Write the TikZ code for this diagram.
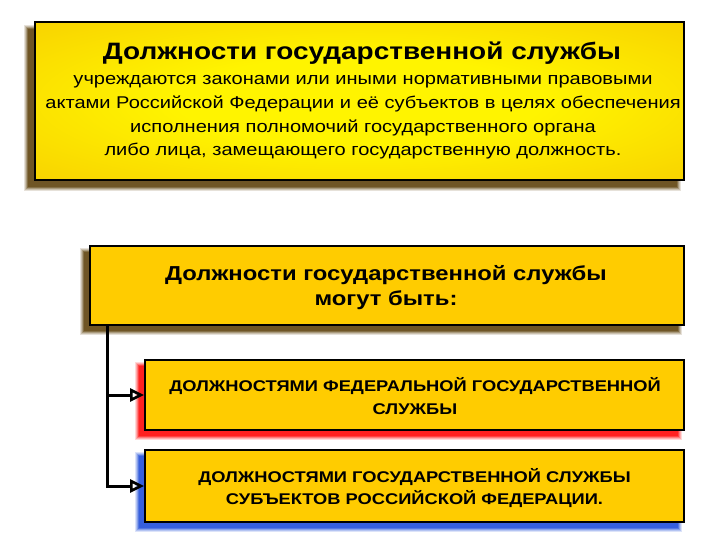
\documentclass[tikz,border=0pt]{standalone}
\usepackage{fontspec}
\setmainfont{Liberation Sans}
\usetikzlibrary{arrows.meta,calc,backgrounds}
\definecolor{gold}{HTML}{FFCC00}
\definecolor{litey}{HTML}{FFF400}
\definecolor{darky}{HTML}{F4C000}
\definecolor{shbrown}{HTML}{5A3C05}
\definecolor{shred}{HTML}{FF0000}
\definecolor{shblue}{HTML}{1848D8}
\pgfdeclareradialshading{glow}{\pgfpoint{0bp}{0bp}}{color(0bp)=(litey); color(14bp)=(litey); color(48bp)=(darky); color(60bp)=(darky)}
\tikzset{
  box/.style={draw=black, line width=2pt, fill=gold, inner sep=0pt},
  bigbox/.style={draw=black, line width=2.2pt, shading=glow, inner sep=0pt},
  txt/.style={anchor=base, inner sep=0pt},
  link/.style={line width=3pt, -{Triangle[open,length=14pt,width=13pt,line width=2.6pt]}},
}
\newcommand{\softshadow}[3]{% node, colour, offset
  \foreach \e/\o in {3/0.15,2/0.2,1/0.28,0/0.45,-1/0.5}{
    \fill[#2, opacity=\o]
      ($(#1.north west)+(-#3-\e,#3-\e)$) rectangle ($(#1.south east)+(-#3+\e,#3+\e)$);
  }
}
\newcommand{\hs}[1]{\scalebox{1.18}[1]{#1}}
\begin{document}
\begin{tikzpicture}[x=1pt,y=-1pt]
\useasboundingbox (0,0) rectangle (720,540);

\node[bigbox, minimum width=649pt, minimum height=158pt] (top) at (359.5,101) {};
\node[txt] (t0) at (362,60) {\fontsize{23.7}{27}\bfseries\selectfont\hs{Должности государственной службы}};
\node[txt] (t1) at (363,85) {\fontsize{17}{23}\selectfont\hs{учреждаются законами или иными нормативными правовыми}};
\node[txt] (t2) at (363,109) {\fontsize{17}{23}\selectfont\hs{актами Российской Федерации и её субъектов в целях обеспечения}};
\node[txt] (t3) at (363,133) {\fontsize{17}{23}\selectfont\hs{исполнения полномочий государственного органа}};
\node[txt] (t4) at (363,156) {\fontsize{17}{23}\selectfont\hs{либо лица, замещающего государственную должность.}};

\node[box, minimum width=594pt, minimum height=79pt] (mid) at (387,285.5) {};
\node[txt] (m1) at (386,280.5) {\fontsize{20.2}{25}\bfseries\selectfont\hs{Должности государственной службы}};
\node[txt] (m2) at (386,305.5) {\fontsize{20.2}{25}\bfseries\selectfont\hs{могут быть:}};

\node[box, minimum width=539pt, minimum height=70pt] (fed) at (414.5,395) {};
\node[txt] (f1) at (415,391) {\fontsize{15.5}{20}\bfseries\selectfont\hs{ДОЛЖНОСТЯМИ ФЕДЕРАЛЬНОЙ ГОСУДАРСТВЕННОЙ}};
\node[txt] (f2) at (415,414) {\fontsize{15.5}{20}\bfseries\selectfont\hs{СЛУЖБЫ}};

\node[box, minimum width=539pt, minimum height=72pt] (reg) at (414.5,486) {};
\node[txt] (r1) at (414.5,482) {\fontsize{15.5}{20}\bfseries\selectfont\hs{ДОЛЖНОСТЯМИ ГОСУДАРСТВЕННОЙ СЛУЖБЫ}};
\node[txt] (r2) at (414.5,504.5) {\fontsize{15.5}{20}\bfseries\selectfont\hs{СУБЪЕКТОВ РОССИЙСКОЙ ФЕДЕРАЦИИ.}};

\begin{scope}[on background layer]
  \fill[white] (0,0) rectangle (720,540);
  \softshadow{top}{shbrown}{7}
  \softshadow{mid}{shbrown}{6}
  \softshadow{fed}{shred}{6}
  \softshadow{reg}{shblue}{6}
\end{scope}

\coordinate (trunk) at (mid.south -| 107,0);
\draw[line width=3pt] (trunk) -- ($(trunk |- reg.west)+(0,1.5)$);
\draw[link] (trunk) |- (fed.west);
\draw[link] (trunk) |- (reg.west);
\end{tikzpicture}
\end{document}
